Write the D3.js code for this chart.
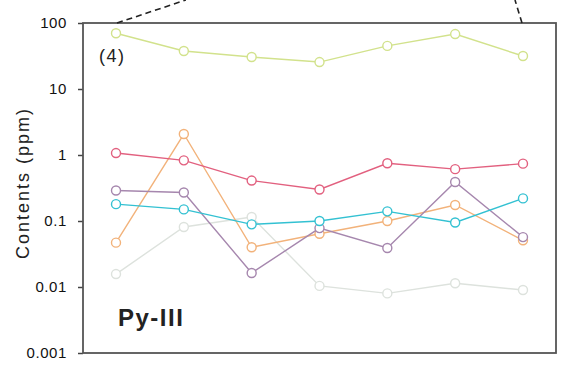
<!DOCTYPE html>
<html lang="en">
  <head>
    <meta charset="UTF-8" />
    <title>Py-III</title>
    <script src="https://cdn.jsdelivr.net/npm/d3@7"></script>
    <style>
      body {
        padding: 0;
        margin: 0;
        background: #fff;
      }
      svg {
        display: block;
        font-family: Arial, "Liberation Sans", sans-serif;
      }
    </style>
  </head>
  <body>
    <svg id="chart" width="562" height="372"></svg>
    <script>
      // sample spots along the profile (7 analyses)
      const spots = [1, 2, 3, 4, 5, 6, 7];
      const yTicks = [0.001, 0.01, 0.1, 1, 10, 100];
      const yTickLabels = ["0.001", "0.01", "0.1", "1", "10", "100"];

      // element contents in ppm
      const faint = [0.0157, 0.081, 0.115, 0.0104, 0.008, 0.0114, 0.009];
      const green = [70, 37.7, 30.5, 25.6, 45, 68, 31.6];
      const red = [1.07, 0.83, 0.41, 0.3, 0.75, 0.61, 0.74];
      const purple = [0.29, 0.27, 0.0163, 0.078, 0.039, 0.39, 0.057];
      const cyan = [0.18, 0.15, 0.089, 0.1, 0.14, 0.095, 0.22];
      const orange = [0.047, 2.08, 0.04, 0.064, 0.1, 0.175, 0.051];

      const series = [
        { values: faint, color: "#dde2dd" },
        { values: green, color: "#d2e28c" },
        { values: orange, color: "#f2b27a" },
        { values: purple, color: "#a687ae" },
        { values: red, color: "#e2607f" },
        { values: cyan, color: "#33c1d2" },
      ];

      const svg = d3.select("#chart");
      const margin = { left: 83, right: 5, top: 23, bottom: 19 };
      const width = 562 - margin.left - margin.right;
      const height = 372 - margin.top - margin.bottom;

      const x = d3.scalePoint().domain(spots).range([33, 440]);
      const y = d3.scaleLog().domain([0.001, 100]).range([height, 0]);

      const g = svg
        .append("g")
        .attr("transform", `translate(${margin.left},${margin.top})`);

      // dashed zoom-in guides going up out of the frame
      svg
        .append("line")
        .attr("x1", margin.left + x(1) + 1)
        .attr("y1", margin.top)
        .attr("x2", margin.left + x(2) + 2)
        .attr("y2", 0)
        .attr("stroke", "#222")
        .attr("stroke-width", 1.6)
        .attr("stroke-dasharray", "6 4");
      svg
        .append("line")
        .attr("x1", margin.left + x(7) - 1)
        .attr("y1", margin.top)
        .attr("x2", margin.left + x(7) - 8)
        .attr("y2", 0)
        .attr("stroke", "#222")
        .attr("stroke-width", 1.6)
        .attr("stroke-dasharray", "6 4");

      // y axis
      const yAxis = g
        .append("g")
        .call(
          d3
            .axisLeft(y)
            .tickValues(yTicks)
            .tickFormat((d, i) => yTickLabels[i])
            .tickSize(5)
            .tickPadding(11)
        );
      yAxis.select(".domain").remove();
      yAxis.selectAll("line").attr("stroke", "#444").attr("stroke-width", 1.5);
      yAxis
        .selectAll("text")
        .attr("fill", "#111")
        .style("font-size", "15px")
        .style("letter-spacing", "0.6px")
        .style("font-family", "Arial, 'Liberation Sans', sans-serif");

      // frame
      g.append("rect")
        .attr("x", 0)
        .attr("y", 0)
        .attr("width", width - 1)
        .attr("height", height)
        .attr("fill", "none")
        .attr("stroke", "#555")
        .attr("stroke-width", 1.8);

      const line = d3
        .line()
        .x((d, i) => x(spots[i]))
        .y((d) => y(d));

      series.forEach((s) => {
        g.append("path")
          .datum(s.values)
          .attr("d", line)
          .attr("fill", "none")
          .attr("stroke", s.color)
          .attr("stroke-width", 1.4);
        g.selectAll(null)
          .data(s.values)
          .enter()
          .append("circle")
          .attr("cx", (d, i) => x(spots[i]))
          .attr("cy", (d) => y(d))
          .attr("r", 4.5)
          .attr("fill", "#fff")
          .attr("stroke", s.color)
          .attr("stroke-width", 1.4);
      });

      g.append("text")
        .attr("x", 16)
        .attr("y", 39)
        .attr("fill", "#222")
        .style("font-size", "18px")
        .style("letter-spacing", "1.5px")
        .text("(4)");

      g.append("text")
        .attr("x", 35)
        .attr("y", 303)
        .attr("fill", "#222")
        .style("font-size", "24px")
        .style("font-weight", "bold")
        .style("letter-spacing", "1.5px")
        .text("Py-III");

      svg
        .append("text")
        .attr("transform", "translate(29,183) rotate(-90)")
        .attr("text-anchor", "middle")
        .attr("fill", "#222")
        .style("font-size", "18px")
        .style("letter-spacing", "2px")
        .text("Contents (ppm)");
    </script>
  </body>
</html>
